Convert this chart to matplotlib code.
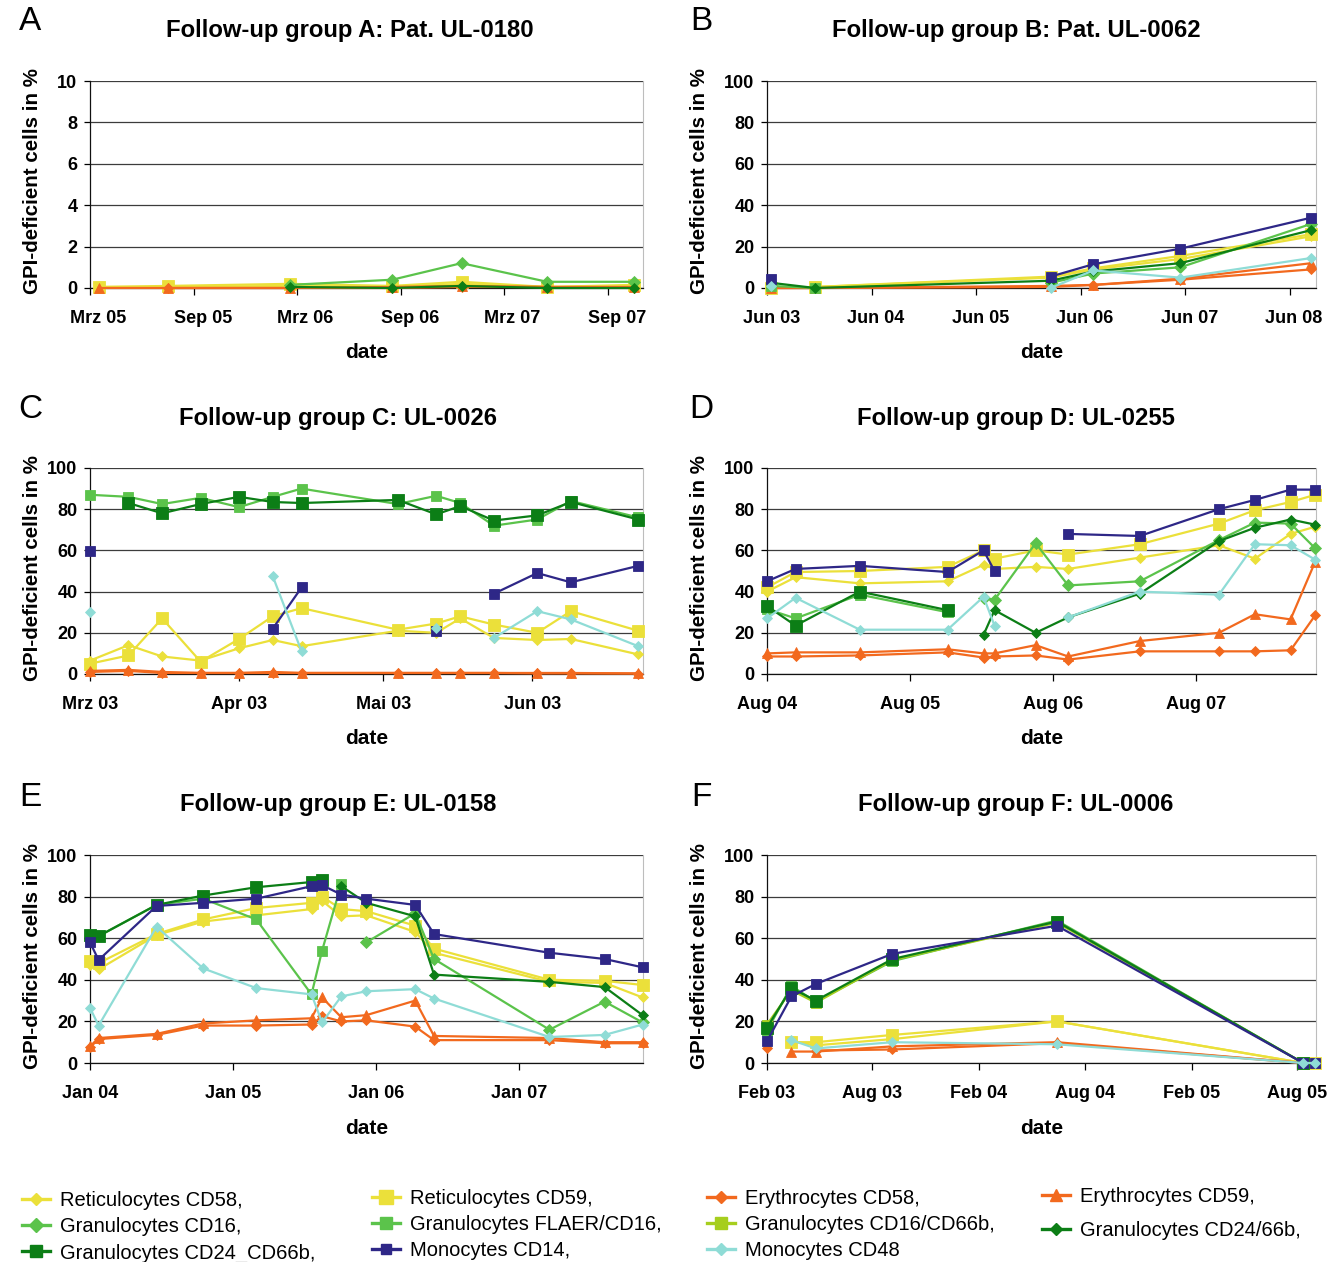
"""Six follow-up panels of GPI-deficient cell fractions (groups A-F) with a shared legend."""

import matplotlib

matplotlib.use("Agg")
import matplotlib.pyplot as plt
import numpy as np
import pandas as pd
from matplotlib.lines import Line2D

W, H = 1335, 1262
FONT = "Liberation Sans"

YELLOW = "#EBE03A"
ORANGE = "#F2691E"
GREEN = "#5BC34B"
YGREEN = "#A6CE1E"
DGREEN = "#0C7E16"
INDIGO = "#2E2787"
CYAN = "#8FDCD6"

# key, legend label, colour, marker, marker size (Excel series order)
SERIES = [
    ("ret58", "Reticulocytes CD58,", YELLOW, "D", 5.5),
    ("ret59", "Reticulocytes CD59,", YELLOW, "s", 9),
    ("ery58", "Erythrocytes CD58,", ORANGE, "D", 5.5),
    ("ery59", "Erythrocytes CD59,", ORANGE, "^", 7),
    ("gran16", "Granulocytes CD16,", GREEN, "D", 6),
    ("flaer", "Granulocytes FLAER/CD16,", GREEN, "s", 7.5),
    ("gran16_66b", "Granulocytes CD16/CD66b,", YGREEN, "s", 7.5),
    ("gran24_66b", "Granulocytes CD24/66b,", DGREEN, "D", 5.5),
    ("gran24_cd66b", "Granulocytes CD24_CD66b,", DGREEN, "s", 8),
    ("mono14", "Monocytes CD14,", INDIGO, "s", 6.5),
    ("mono48", "Monocytes CD48", CYAN, "D", 5),
]

# ---------------- panel A (monthly axis) ----------------
a_months = ["2005-03", "2005-07", "2006-02", "2006-08", "2006-12", "2007-05", "2007-10"]
a_ret58 = [0.05, 0.05, 0.1, 0.05, 0.2, 0.05, 0.1]
a_ret59 = [0.05, 0.1, 0.2, 0.1, 0.3, 0.05, 0.15]
a_ery58 = [None, 0.0, 0.0, 0.0, 0.05, 0.05, 0.0]
a_ery59 = [0.0, 0.0, 0.0, 0.05, 0.1, 0.05, 0.05]
a_gran16 = [None, None, 0.15, 0.4, 1.2, 0.3, 0.3]
a_gran24_66b = [None, None, 0.05, 0.0, 0.1, 0.0, 0.0]
a_ticks = ["2005-03", "2005-09", "2006-03", "2006-09", "2007-03", "2007-09"]
a_ticklabels = ["Mrz 05", "Sep 05", "Mrz 06", "Sep 06", "Mrz 07", "Sep 07"]

# ---------------- panel B (monthly axis) ----------------
b_months = ["2003-06", "2003-11", "2006-02", "2006-07", "2007-05", "2008-08"]
b_ret58 = [0.0, 0.5, 5.0, 9.0, 14.0, 25.0]
b_ret59 = [0.0, 0.5, 5.5, 9.5, 15.5, 26.0]
b_ery58 = [0.0, 0.0, 0.5, 1.5, 4.0, 9.0]
b_ery59 = [0.0, 0.0, 1.0, 1.5, 4.5, 12.0]
b_gran16 = [None, None, 2.5, 7.0, 10.0, 31.0]
b_flaer = [1.0, 0.0, None, None, None, None]
b_gran24_66b = [2.5, 0.0, 3.5, 8.0, 12.0, 28.0]
b_mono14 = [4.5, None, 5.5, 11.5, 19.0, 34.0]
b_mono48 = [1.0, None, 0.0, 8.5, 5.0, 14.5]
b_ticks = ["2003-06", "2004-06", "2005-06", "2006-06", "2007-06", "2008-06"]
b_ticklabels = ["Jun 03", "Jun 04", "Jun 05", "Jun 06", "Jun 07", "Jun 08"]

# ---------------- panel C (daily axis) ----------------
c_dates = ["2003-03-01", "2003-03-09", "2003-03-16", "2003-03-24", "2003-04-01",
           "2003-04-08", "2003-04-14", "2003-05-04", "2003-05-12", "2003-05-17",
           "2003-05-24", "2003-06-02", "2003-06-09", "2003-06-23"]
c_ret58 = [6.5, 14, 8.5, 6.5, 12.5, 16.5, 13.5, 21, 20, 27, 17.5, 16.5, 17, 9.5]
c_ret59 = [5, 9, 27, 6, 17, 28, 32, 21.5, 24.5, 28, 24, 20, 30.5, 21]
c_ery58 = [1, 1.5, 0.5, 0.5, 0.5, 0.5, 0.5, 0.5, 0.5, 0.5, 0.5, 0.3, 0.3, 0.2]
c_ery59 = [1.5, 2, 1, 0.5, 0.5, 1, 0.5, 0.5, 0.5, 0.5, 0.5, 0.5, 0.5, 0.3]
c_flaer = [87, 86, 82.5, 85.5, 81, 86, 90, 82.5, 86.5, 83, 72, 75, 84, 76]
c_gran24_cd66b = [None, 83, 78, 82.5, 86, 83.5, 83, 84.5, 77.5, 81.5, 74.5, 77, 83.5, 75]
c_mono14 = [59.5, None, None, None, None, 22, 42, None, 21, None, 39, 49, 44.5, 52.5]
c_mono48 = [30, None, None, None, None, 47.5, 11, None, 22.5, None, 17.5, 30.5, 26.5, 13.5]
c_ticks = ["2003-03-01", "2003-04-01", "2003-05-01", "2003-06-01"]
c_ticklabels = ["Mrz 03", "Apr 03", "Mai 03", "Jun 03"]

# ---------------- panel D (daily axis) ----------------
d_dates = ["2004-08-01", "2004-10-13", "2005-03-26", "2005-11-05", "2006-02-05",
           "2006-03-05", "2006-06-18", "2006-09-09", "2007-03-11", "2007-09-29",
           "2007-12-30", "2008-03-30", "2008-06-01"]
d_ret58 = [40, 47, 44, 45, 53, 51, 52, 51, 56.5, 62.5, 56, 68, 71.5]
d_ret59 = [42, 49.5, 50, 52, 60, 56, 60, 58, 63, 73, 79.5, 83.5, 87]
d_ery58 = [8.5, 8.5, 9, 10.5, 8, 8.5, 9, 7, 11, 11, 11, 11.5, 28.5]
d_ery59 = [10, 10.5, 10.5, 12, 10, 10, 14, 8.5, 16, 20, 29, 26.5, 54.5]
d_gran16 = [None, None, None, None, 37, 36, 63.5, 43, 45, 65, 73.5, 73, 61]
d_flaer = [31.5, 27, 38.5, 30, None, None, None, None, None, None, None, None, None]
d_gran24_66b = [None, None, None, None, 19, 31, 20, 27.5, 39, 64.5, 71, 75, 72.5]
d_gran24_cd66b = [33, 23.5, 40, 31, None, None, None, None, None, None, None, None, None]
d_mono14 = [45, 51, 52.5, 49.5, 60, 50, None, 68, 67, 80, 84.5, 89.5, 89.5]
d_mono48 = [27, 37, 21.5, 21.5, 37.5, 23.5, None, 27.5, 40, 38.5, 63, 62.5, 55.5]
d_ticks = ["2004-08-01", "2005-08-01", "2006-08-01", "2007-08-01"]
d_ticklabels = ["Aug 04", "Aug 05", "Aug 06", "Aug 07"]

# ---------------- panel E (daily axis) ----------------
e_dates = ["2004-01-01", "2004-01-23", "2004-06-19", "2004-10-16", "2005-03-01",
           "2005-07-20", "2005-08-16", "2005-10-04", "2005-12-07", "2006-04-11",
           "2006-05-29", "2007-03-20", "2007-08-08", "2007-11-13"]
e_ret58 = [47, 45, 61.5, 68, 71, 74, 78, 70.5, 71, 63, 53, 39, 38.5, 31.5]
e_ret59 = [49, 48, 62, 69, 74.5, 77, 80, 74, 73, 66, 55, 40, 39.5, 37.5]
e_ery58 = [7.5, 11.5, 13.5, 18, 18, 18.5, 22.5, 20, 20.5, 17.5, 11, 11, 9.5, 9.5]
e_ery59 = [8, 12, 14, 19, 20.5, 21.5, 31.5, 22, 23, 30, 13, 12, 10, 10]
e_gran16 = [None, None, None, None, None, None, None, None, 58, 72, 50, 16, 29.5, 19.5]
e_flaer = [60.5, 61, 76, 79, 69, 33, 54, 86, None, None, None, None, None, None]
e_gran24_66b = [None, None, None, None, None, None, None, 85, 77, 70.5, 42.5, 39, 36.5, 23]
e_gran24_cd66b = [61.5, 61, 76, 80.5, 84.5, 87, 88, None, None, None, None, None, None, None]
e_mono14 = [58, 49.5, 75.5, 77, 79, 85, 85.5, 81, 79, 76, 62, 53, 50, 46]
e_mono48 = [26.5, 18, 65.5, 45.5, 36, 33, 19.5, 32, 34.5, 35.5, 31, 12.5, 13.5, 18.5]
e_ticks = ["2004-01-01", "2005-01-01", "2006-01-01", "2007-01-01"]
e_ticklabels = ["Jan 04", "Jan 05", "Jan 06", "Jan 07"]

# ---------------- panel F (daily axis) ----------------
f_dates = ["2003-02-01", "2003-03-15", "2003-04-26", "2003-09-05", "2004-06-14",
           "2005-08-12", "2005-09-01"]
f_ret58 = [None, 10.5, 8.5, 11.5, 20, 0, 0]
f_ret59 = [None, 10, 10, 13.5, 20, 0, 0]
f_ery58 = [7, None, 6, 6.5, 9.5, 0, 0]
f_ery59 = [None, 5.5, 5.5, 8, 10, 0, 0]
f_flaer = [15.5, 37, 29.5, 49, 68.5, 0, None]
f_gran16_66b = [18.5, 35, 29, 49.5, 67.5, 0, None]
f_gran24_cd66b = [17, 36, 30, 50, 68, 0, None]
f_mono14 = [10.5, 32, 38, 52.5, 66, 0, 0]
f_mono48 = [None, 11, 7, 10, 9, 0, 0]
f_ticks = ["2003-02-01", "2003-08-01", "2004-02-01", "2004-08-01", "2005-02-01", "2005-08-01"]
f_ticklabels = ["Feb 03", "Aug 03", "Feb 04", "Aug 04", "Feb 05", "Aug 05"]


def mid_month(months):
    # Excel month base unit: each point sits in the middle of its month
    return pd.to_datetime(months) + pd.Timedelta(days=15)


PANELS = [
    dict(letter="A", title="Follow-up group A: Pat. UL-0180", col=0, row=0, tx=350,
         x=mid_month(a_months), monthly=True, ymax=10, ystep=2,
         xlim=("2005-03-01", "2007-11-01"), ticks=a_ticks, labels=a_ticklabels,
         series=dict(ret58=a_ret58, ret59=a_ret59, ery58=a_ery58, ery59=a_ery59,
                     gran16=a_gran16, gran24_66b=a_gran24_66b)),
    dict(letter="B", title="Follow-up group B: Pat. UL-0062", col=1, row=0, tx=1016,
         x=mid_month(b_months), monthly=True, ymax=100, ystep=20,
         xlim=("2003-06-01", "2008-09-01"), ticks=b_ticks, labels=b_ticklabels,
         series=dict(ret58=b_ret58, ret59=b_ret59, ery58=b_ery58, ery59=b_ery59,
                     gran16=b_gran16, flaer=b_flaer, gran24_66b=b_gran24_66b,
                     mono14=b_mono14, mono48=b_mono48)),
    dict(letter="C", title="Follow-up group C: UL-0026", col=0, row=1, tx=338,
         x=pd.to_datetime(c_dates), monthly=False, ymax=100, ystep=20,
         xlim=("2003-03-01", "2003-06-24"), ticks=c_ticks, labels=c_ticklabels,
         series=dict(ret58=c_ret58, ret59=c_ret59, ery58=c_ery58, ery59=c_ery59,
                     flaer=c_flaer, gran24_cd66b=c_gran24_cd66b,
                     mono14=c_mono14, mono48=c_mono48)),
    dict(letter="D", title="Follow-up group D: UL-0255", col=1, row=1, tx=1016,
         x=pd.to_datetime(d_dates), monthly=False, ymax=100, ystep=20,
         xlim=("2004-08-01", "2008-06-03"), ticks=d_ticks, labels=d_ticklabels,
         series=dict(ret58=d_ret58, ret59=d_ret59, ery58=d_ery58, ery59=d_ery59,
                     gran16=d_gran16, flaer=d_flaer, gran24_66b=d_gran24_66b,
                     gran24_cd66b=d_gran24_cd66b, mono14=d_mono14, mono48=d_mono48)),
    dict(letter="E", title="Follow-up group E: UL-0158", col=0, row=2, tx=338,
         x=pd.to_datetime(e_dates), monthly=False, ymax=100, ystep=20,
         xlim=("2004-01-01", "2007-11-14"), ticks=e_ticks, labels=e_ticklabels,
         series=dict(ret58=e_ret58, ret59=e_ret59, ery58=e_ery58, ery59=e_ery59,
                     gran16=e_gran16, flaer=e_flaer, gran24_66b=e_gran24_66b,
                     gran24_cd66b=e_gran24_cd66b, mono14=e_mono14, mono48=e_mono48)),
    dict(letter="F", title="Follow-up group F: UL-0006", col=1, row=2, tx=1016,
         x=pd.to_datetime(f_dates), monthly=False, ymax=100, ystep=20,
         xlim=("2003-02-01", "2005-09-03"), ticks=f_ticks, labels=f_ticklabels,
         series=dict(ret58=f_ret58, ret59=f_ret59, ery58=f_ery58, ery59=f_ery59,
                     flaer=f_flaer, gran16_66b=f_gran16_66b,
                     gran24_cd66b=f_gran24_cd66b, mono14=f_mono14, mono48=f_mono48)),
]

# pixel layout of the two columns / three rows
COL_X = [(90, 643), (767, 1316)]
ROW_Y = [(81, 288), (468, 674), (855, 1063)]
TITLE_Y = [31, 418, 804]
LETTER_X = [30, 701]
LETTER_Y = [22, 409, 797]
YLABEL_X = [33, 700]


def fx(x):
    return x / W


def fy(y):
    return 1 - y / H


fig = plt.figure(figsize=(W / 100, H / 100), dpi=100)

for p in PANELS:
    (x0, x1), (y0, y1) = COL_X[p["col"]], ROW_Y[p["row"]]
    ax = fig.add_axes([fx(x0), fy(y1), (x1 - x0) / W, (y1 - y0) / H])

    for key, label, color, marker, ms in SERIES:
        if key not in p["series"]:
            continue
        y = np.array([np.nan if v is None else v for v in p["series"][key]], float)
        ax.plot(p["x"], y, color=color, lw=1.6, marker=marker, ms=ms,
                mec=color, mew=0.6, clip_on=False, zorder=3)

    ax.set_xlim(pd.Timestamp(p["xlim"][0]), pd.Timestamp(p["xlim"][1]))
    ax.set_ylim(0, p["ymax"])
    yt = np.arange(0, p["ymax"] + 0.01, p["ystep"])
    ax.set_yticks(yt, [f"{v:g}" for v in yt], fontfamily=FONT,
                  fontweight="bold", fontsize=13)
    ax.yaxis.grid(True, color="#3c3c3c", lw=0.9)
    ax.set_axisbelow(True)
    ax.tick_params(axis="y", length=4, width=0.9, pad=5)

    ticks = pd.to_datetime(p["ticks"])
    if p["monthly"]:
        # tick marks on month boundaries, labels centred in the month
        ax.set_xticks(ticks, [""] * len(ticks))
        ax.set_xticks(ticks + pd.Timedelta(days=15), p["labels"], minor=True,
                      fontfamily=FONT, fontweight="bold", fontsize=13)
        ax.tick_params(axis="x", which="major", length=5, width=0.9)
        ax.tick_params(axis="x", which="minor", length=0, pad=15.5)
    else:
        ax.set_xticks(ticks, p["labels"], fontfamily=FONT, fontweight="bold",
                      fontsize=13)
        ax.tick_params(axis="x", which="major", length=5, width=0.9, pad=11)

    for side in ("left", "bottom"):
        ax.spines[side].set_color("#111111")
        ax.spines[side].set_linewidth(0.9)
    ax.spines["right"].set_color("#bdbdbd")
    ax.spines["top"].set_visible(False)

    ax.text(0.5, -65 / (y1 - y0), "date", transform=ax.transAxes, ha="center",
            va="center", fontfamily=FONT, fontweight="bold", fontsize=15)
    fig.text(fx(YLABEL_X[p["col"]]), fy((y0 + y1) / 2 - 3), "GPI-deficient cells in %",
             rotation=90, ha="center", va="center", fontfamily=FONT,
             fontweight="bold", fontsize=14.8)
    fig.text(fx(p["tx"]), fy(TITLE_Y[p["row"]]), p["title"], ha="center",
             va="center", fontfamily=FONT, fontweight="bold", fontsize=17.2)
    fig.text(fx(LETTER_X[p["col"]]), fy(LETTER_Y[p["row"]]), p["letter"], ha="center",
             va="center", fontfamily=FONT, fontsize=24)

# legend: four columns, placed by hand like the original
style = {key: (label, color, marker, ms) for key, label, color, marker, ms in SERIES}
LEGEND_COLS = [
    (22, 1191, ["ret58", "gran16", "gran24_cd66b"]),
    (372, 1189, ["ret59", "flaer", "mono14"]),
    (707, 1189, ["ery58", "gran16_66b", "mono48"]),
    (1042, 1187, ["ery59", "gran24_66b"]),
]
for lx, ly, keys in LEGEND_COLS:
    handles = []
    for key in keys:
        label, color, marker, ms = style[key]
        handles.append(Line2D([], [], color=color, lw=2.4, marker=marker,
                              ms=ms + 1, mec=color, label=label))
    fig.legend(handles=handles, loc="upper left", bbox_to_anchor=(fx(lx), fy(ly)),
               frameon=False, borderpad=0, borderaxespad=0, handlelength=1.4,
               handletextpad=0.5, labelspacing=0.36 if len(keys) == 3 else 0.73,
               prop=dict(family=FONT, size=14.5))

fig.savefig("out.png", dpi=100)
